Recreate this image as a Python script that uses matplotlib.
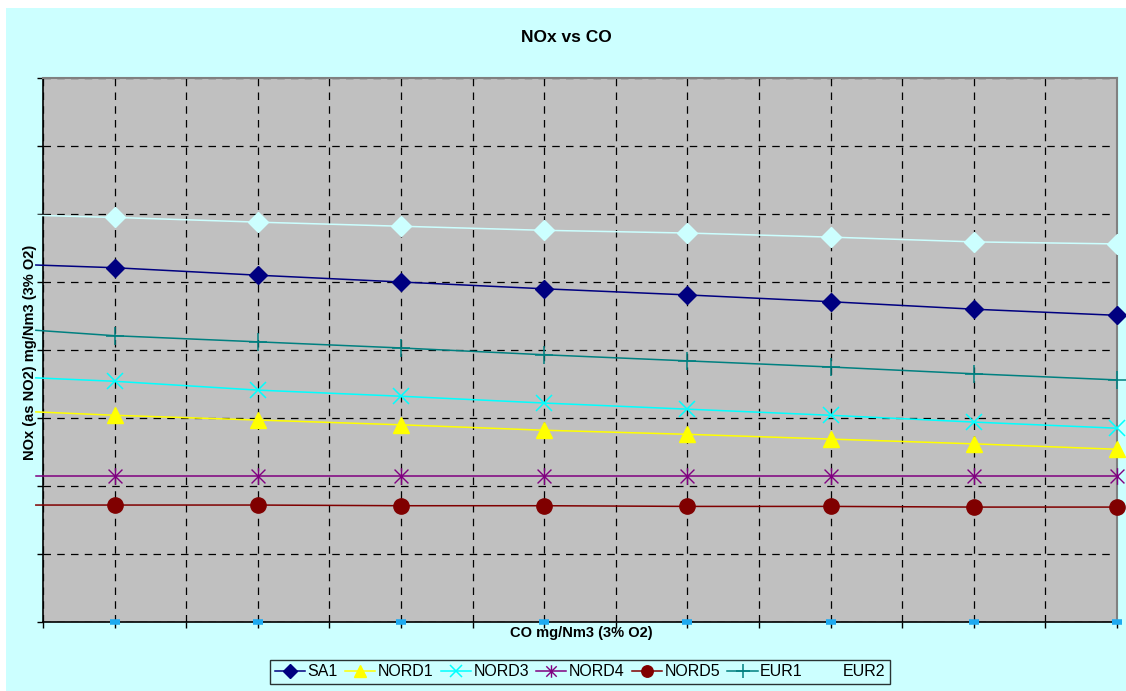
import matplotlib
matplotlib.use("Agg")
import matplotlib.pyplot as plt
from matplotlib.path import Path
from matplotlib.patches import Rectangle

# CO positions of the measurement points (first entry is the trend start, drawn without marker)
co = [-0.1, 1, 3, 5, 7, 9, 11, 13, 15]

sa1 = [525, 521, 510, 500, 490, 481, 471, 460, 451]
nord1 = [309, 304, 297, 290, 282, 276, 269, 262, 254]
nord3 = [359, 354, 341, 332, 322, 313, 304, 294, 285]
nord4 = [215, 215, 215, 215, 215, 215, 215, 215, 215]
nord5 = [172, 172, 172, 171, 171, 170, 170, 169, 169]
eur1 = [429, 421, 412, 403, 393, 384, 375, 365, 356]
eur2 = [598, 595, 588, 582, 576, 572, 566, 559, 556]

names = ["SA1", "NORD1", "NORD3", "NORD4", "NORD5", "EUR1", "EUR2"]
colors = ["#000080", "#FFFF00", "#00FFFF", "#800080", "#800000", "#008080", "#CCFFFF"]

# Excel-style asterisk: an x with a vertical stroke
star = Path([(-1, -1), (1, 1), (-1, 1), (1, -1), (0, -1.2), (0, 1.2)],
            [Path.MOVETO, Path.LINETO, Path.MOVETO, Path.LINETO, Path.MOVETO, Path.LINETO])

styles = [
    dict(marker="D", ms=9),
    dict(marker="^", ms=11),
    dict(marker="x", ms=11, mew=1.1),
    dict(marker=star, ms=12, mew=1.0),
    dict(marker="o", ms=11),
    dict(marker="+", ms=13, mew=1.1),
    dict(marker="D", ms=10),
]

fig = plt.figure(figsize=(11.26, 6.91), dpi=100)
fig.patch.set_facecolor("white")
fig.add_artist(Rectangle((6 / 1126, 0), 1, 1 - 8 / 691, transform=fig.transFigure,
                         facecolor="#CCFFFF", edgecolor="none", zorder=-10))

ax = fig.add_axes([43 / 1126, 69 / 691, 1074 / 1126, 544 / 691])
ax.set_facecolor("#C0C0C0")

series = [sa1, nord1, nord3, nord4, nord5, eur1, eur2]
for name, vals, c, st in zip(names, series, colors, styles):
    ax.plot(co, vals, color=c, lw=1.1, label=name, markevery=list(range(1, len(co))),
            mfc=c, mec=c, clip_on=False, zorder=3, **st)

# small markers on the CO axis
ax.plot(co[1:], [0] * (len(co) - 1), ls="none", marker="_", ms=7, mew=4,
        color="#1EAAF0", clip_on=False, zorder=4)

ax.set_xlim(0, 15)
ax.set_ylim(0, 800)
ax.set_xticks(range(0, 16))
ax.set_yticks(range(0, 801, 100))
ax.set_xticklabels([])
ax.set_yticklabels([])
ax.tick_params(direction="out", length=4, width=1, color="black")
ax.grid(True, color="black", ls=(0, (6, 5)), lw=0.9)
ax.set_axisbelow(True)

for side in ["left", "bottom"]:
    ax.spines[side].set_color("black")
    ax.spines[side].set_linewidth(1.2)
for side in ["top", "right"]:
    ax.spines[side].set_color("#808080")
    ax.spines[side].set_linewidth(1.5)

fig.text(566 / 1126, 1 - 38 / 691, "NOx vs CO", ha="center", va="center",
         fontsize=12.5, fontweight="bold", family="Liberation Sans")
fig.text(581 / 1126, 1 - 633 / 691, "CO mg/Nm3 (3% O2)", ha="center", va="center",
         fontsize=10.5, fontweight="bold", family="Liberation Sans")
fig.text(30 / 1126, 1 - 352 / 691, "NOx (as NO2) mg/Nm3 (3% O2)", ha="center", va="center",
         rotation=90, fontsize=10.5, fontweight="bold", family="Liberation Sans")

leg = fig.legend(loc="center", bbox_to_anchor=(580 / 1126, 1 - 672 / 691), ncol=7,
                 frameon=True, fancybox=False, edgecolor="black", facecolor="#CCFFFF",
                 prop={"family": "Liberation Sans", "size": 11.5},
                 handlelength=1.9, handletextpad=0.15, columnspacing=0.45,
                 borderpad=0.3, borderaxespad=0, markerscale=0.75)
leg.get_frame().set_linewidth(1.0)

fig.savefig("out.png", dpi=100, facecolor=fig.get_facecolor())
